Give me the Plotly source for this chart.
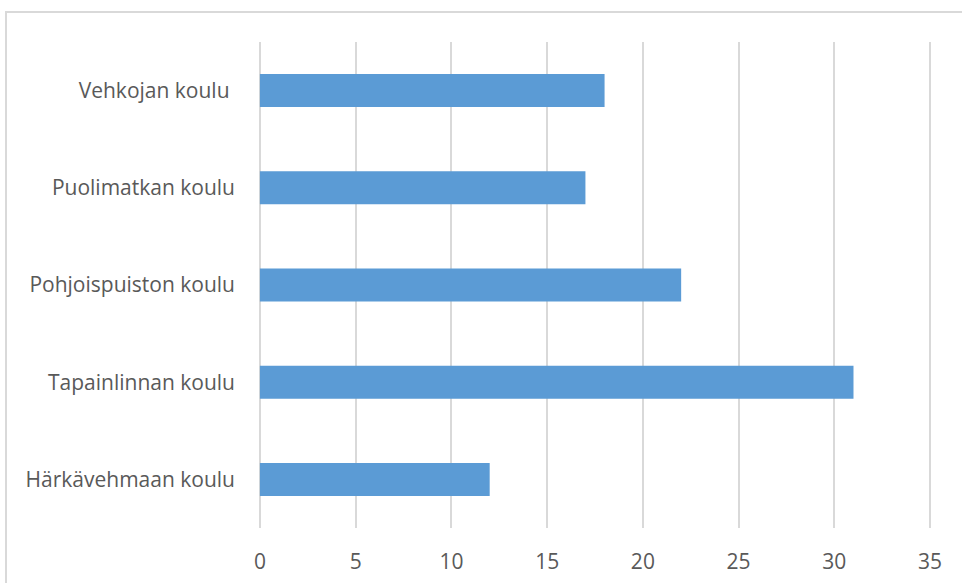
import plotly.graph_objects as go

# School names (bottom to top) and their values
schools = ["Härkävehmaan koulu", "Tapainlinnan koulu", "Pohjoispuiston koulu",
           "Puolimatkan koulu", "Vehkojan koulu\u00a0"]
values = [12, 31, 22, 17, 18]
x_ticks = [0, 5, 10, 15, 20, 25, 30, 35]

W, H = 962, 583
L, R, T, B = 258, 30, 42, 55
pw, ph = W - L - R, H - T - B

fig = go.Figure(go.Bar(
    y=schools, x=values, orientation="h",
    marker=dict(color="#5b9bd5", line=dict(width=0)),
    width=0.34,
))

font = dict(family="Open Sans, Calibri, sans-serif", size=21, color="#595959")

fig.update_layout(
    width=W, height=H,
    margin=dict(l=L, r=R, t=T, b=B),
    plot_bgcolor="white", paper_bgcolor="white",
    showlegend=False,
    font=font,
    xaxis=dict(range=[-0.1, 35.1], tickvals=x_ticks, showgrid=True,
               gridcolor="#d9d9d9", gridwidth=1.5, zeroline=False,
               showline=False, ticks="", ticklabelstandoff=19,
               automargin=False, fixedrange=True),
    yaxis=dict(showgrid=False, zeroline=False, showline=False,
               ticks="", ticklabelstandoff=22, range=[-0.5, 4.5],
               automargin=False),
    shapes=[dict(
        type="rect", xref="paper", yref="paper",
        x0=(6 - L) / pw, x1=(975 - L) / pw,
        y0=-(600 - (H - B)) / ph, y1=1 + (T - 12) / ph,
        line=dict(color="#d9d9d9", width=2), fillcolor="rgba(0,0,0,0)",
        layer="below",
    )],
)

fig.write_html("out.html")
